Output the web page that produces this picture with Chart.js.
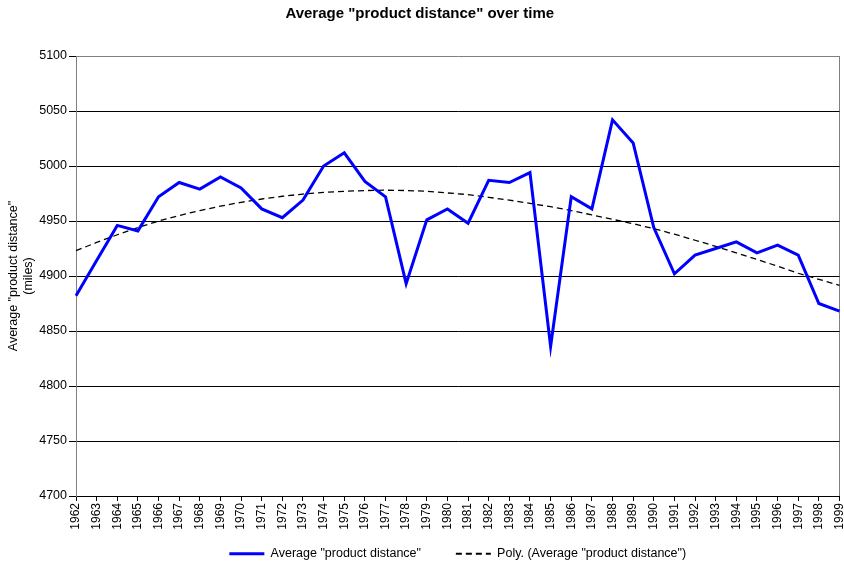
<!DOCTYPE html>
<html>
<head>
<meta charset="utf-8">
<title>Average "product distance" over time</title>
<script src="https://cdn.jsdelivr.net/npm/chart.js@4.4.1/dist/chart.umd.min.js"></script>
<style>
  html, body { margin: 0; padding: 0; background: #fff; }
  canvas { display: block; }
</style>
</head>
<body>
<canvas id="myChart" width="844" height="570"></canvas>
<script>
// years on the x axis
const years = ['1962', '1963', '1964', '1965', '1966', '1967', '1968', '1969', '1970', '1971',
  '1972', '1973', '1974', '1975', '1976', '1977', '1978', '1979', '1980', '1981',
  '1982', '1983', '1984', '1985', '1986', '1987', '1988', '1989', '1990', '1991',
  '1992', '1993', '1994', '1995', '1996', '1997', '1998', '1999'];

// average "product distance" in miles
const avgDistance = [4882, 4914, 4946, 4941, 4972, 4985, 4979, 4990, 4980, 4961,
  4953, 4969, 5000, 5012, 4986, 4972, 4893, 4951, 4961, 4948,
  4987, 4985, 4994, 4836, 4972, 4961, 5042, 5021, 4944, 4902,
  4919, 4925, 4931, 4921, 4928, 4919, 4875, 4868];

// Excel poly trendline, also
const polyTrend = [4923, 4930.5, 4937.5, 4944, 4950, 4955, 4959.5, 4963.5, 4967, 4970,
  4972.5, 4974.5, 4976, 4977, 4977.7, 4978, 4977.7, 4977, 4975.5, 4974,
  4971.5, 4969, 4966, 4963, 4959.5, 4955.5, 4951.5, 4947.5, 4943, 4938,
  4932.5, 4927, 4921, 4915, 4909, 4902.5, 4897, 4891.5];

// y axis ticks
const yTickValues = [4700, 4750, 4800, 4850, 4900, 4950, 5000, 5050, 5100];

const FONT = '"Liberation Sans", Arial, sans-serif';

const ctx = document.getElementById('myChart').getContext('2d');
new Chart(ctx, {
  type: 'line',
  data: {
    labels: years,
    datasets: [
      {
        label: 'Average "product distance"',
        data: avgDistance,
        borderColor: '#0000FF',
        backgroundColor: 'rgba(0,0,0,0)',
        borderWidth: 3,
        pointRadius: 0,
        tension: 0
      },
      {
        label: 'Poly. (Average "product distance")',
        data: polyTrend,
        borderColor: '#000000',
        backgroundColor: 'rgba(0,0,0,0)',
        borderWidth: 1.3,
        borderDash: [6, 4],
        pointRadius: 0,
        tension: 0
      }
    ]
  },
  options: {
    responsive: false,
    animation: false,
    devicePixelRatio: 1,
    layout: { padding: { left: 0, right: 4.5, top: 0, bottom: 0 } },
    plugins: {
      title: {
        display: true,
        text: 'Average "product distance" over time',
        color: '#000',
        font: { family: FONT, size: 15, weight: 'bold' },
        padding: { top: 4.5, bottom: 33.5 }
      },
      legend: {
        position: 'bottom',
        fullSize: false,
        labels: {
          color: '#000',
          font: { family: FONT, size: 12.5 },
          usePointStyle: true,
          pointStyle: 'line',
          pointStyleWidth: 35,
          padding: 17.5,
          generateLabels: function (chart) {
            const items = Chart.defaults.plugins.legend.labels.generateLabels(chart);
            items.forEach(function (item, i) {
              const ds = chart.data.datasets[item.datasetIndex];
              item.strokeStyle = ds.borderColor;
              item.lineDash = ds.borderDash || [];
              item.lineWidth = ds.borderDash ? 2 : ds.borderWidth;
              // widen the gap between the two entries
              if (i < items.length - 1) item.text = item.text + '     ';
            });
            return items;
          }
        }
      },
      tooltip: { enabled: false }
    },
    scales: {
      x: {
        type: 'category',
        offset: false,
        border: { color: '#000', width: 1 },
        grid: {
          drawOnChartArea: true,
          color: function (c) { return c.index === years.length - 1 ? '#808080' : 'rgba(0,0,0,0)'; },
          tickColor: '#000',
          tickLength: 5
        },
        ticks: {
          autoSkip: false,
          maxRotation: 90,
          minRotation: 90,
          padding: 2,
          color: '#000',
          font: { family: FONT, size: 12 }
        },
        afterFit: function (scale) {
          scale.height = 34;
          scale.paddingLeft = 0;
          scale.paddingRight = 0;
        }
      },
      y: {
        min: yTickValues[0],
        max: yTickValues[yTickValues.length - 1],
        border: { color: '#808080', width: 1 },
        grid: {
          color: function (c) { return c.tick && c.tick.value === yTickValues[yTickValues.length - 1] ? '#808080' : '#000'; },
          tickColor: '#000',
          tickLength: 7
        },
        ticks: {
          stepSize: yTickValues[1] - yTickValues[0],
          padding: 2,
          color: '#000',
          font: { family: FONT, size: 12.5 },
          callback: function (v) { return String(v); }
        },
        title: {
          display: true,
          text: ['Average "product distance"', '(miles)'],
          color: '#000',
          font: { family: FONT, size: 12.5 },
          padding: { top: 6.5, bottom: 0 }
        },
        afterFit: function (scale) {
          scale.width = 76;
          scale.paddingTop = 0;
          scale.paddingBottom = 0;
        }
      }
    }
  }
});
</script>
</body>
</html>
